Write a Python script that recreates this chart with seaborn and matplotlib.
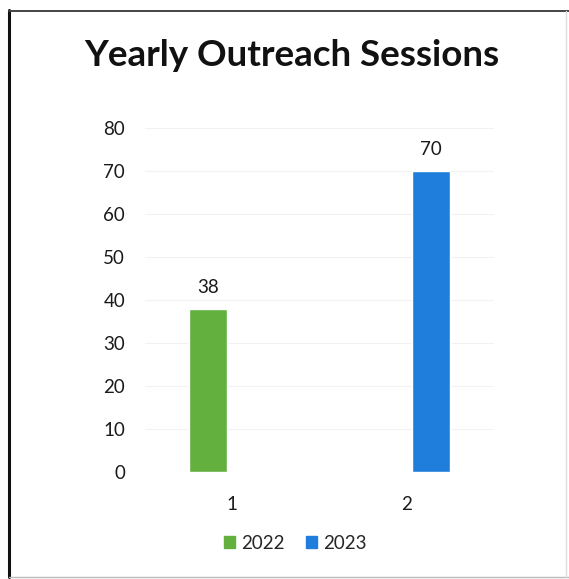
import matplotlib
matplotlib.use("Agg")
import matplotlib.pyplot as plt
import seaborn as sns
import pandas as pd
from matplotlib.patches import Rectangle
from matplotlib.lines import Line2D

categories = ["1", "2"]
years = ["2022", "2023"]
values = [38, 70]
title = "Yearly Outreach Sessions"
y_ticks = [0, 10, 20, 30, 40, 50, 60, 70, 80]

df = pd.DataFrame({"cat": categories, "year": years, "value": values})

sns.set_theme(style="white")
plt.rcParams["font.family"] = ["Lato", "DejaVu Sans"]

fig = plt.figure(figsize=(5.69, 5.79), dpi=100)
ax = fig.add_axes([0.254, 0.1848, 0.615, 0.5942])

palette = {"2022": "#63B03F", "2023": "#1F7EDB"}
sns.barplot(data=df, x="cat", y="value", hue="year", order=categories,
            hue_order=years, palette=palette, width=0.55, gap=0.21,
            dodge=True, saturation=1, ax=ax, legend=True)

ax.set_ylim(0, 80)
ax.set_yticks(y_ticks)
ax.set_xlim(-0.5, 1.5)
ax.yaxis.grid(True, color="#F2F2F2", linewidth=0.8)
ax.set_axisbelow(True)
for s in ax.spines.values():
    s.set_visible(False)
ax.tick_params(axis="y", length=0, pad=14, labelsize=13.5, labelcolor="#1a1a1a")
ax.tick_params(axis="x", length=0, pad=17, labelsize=13.5, labelcolor="#1a1a1a")
ax.set_xlabel("")
ax.set_ylabel("")

for cont in ax.containers:
    ax.bar_label(cont, fmt="%d", padding=9, fontsize=13.5, color="#1a1a1a")

ax.legend_.remove()
handles = [Rectangle((0, 0), 1, 1, color=palette[y]) for y in years]
fig.legend(handles, years, loc="center", bbox_to_anchor=(0.519, 0.062),
           ncol=2, frameon=False, fontsize=13.5, handlelength=0.6,
           handleheight=0.6, handletextpad=0.35, columnspacing=1.1)

fig.text(0.512, 0.905, title, ha="center", va="center", fontsize=26.5,
         fontweight="bold", color="#111111")

# outer border
fig.add_artist(Line2D([0.016, 0.016], [0.003, 0.982], transform=fig.transFigure,
                      color="#111111", linewidth=2.2))
fig.add_artist(Line2D([0.016, 1.0], [0.981, 0.981], transform=fig.transFigure,
                      color="#444444", linewidth=1.4))
fig.add_artist(Line2D([0.016, 1.0], [0.003, 0.003], transform=fig.transFigure,
                      color="#bbbbbb", linewidth=1.0))
fig.add_artist(Line2D([0.995, 0.995], [0.003, 0.981], transform=fig.transFigure,
                      color="#dddddd", linewidth=1.0))

fig.savefig("out.png", dpi=100)
